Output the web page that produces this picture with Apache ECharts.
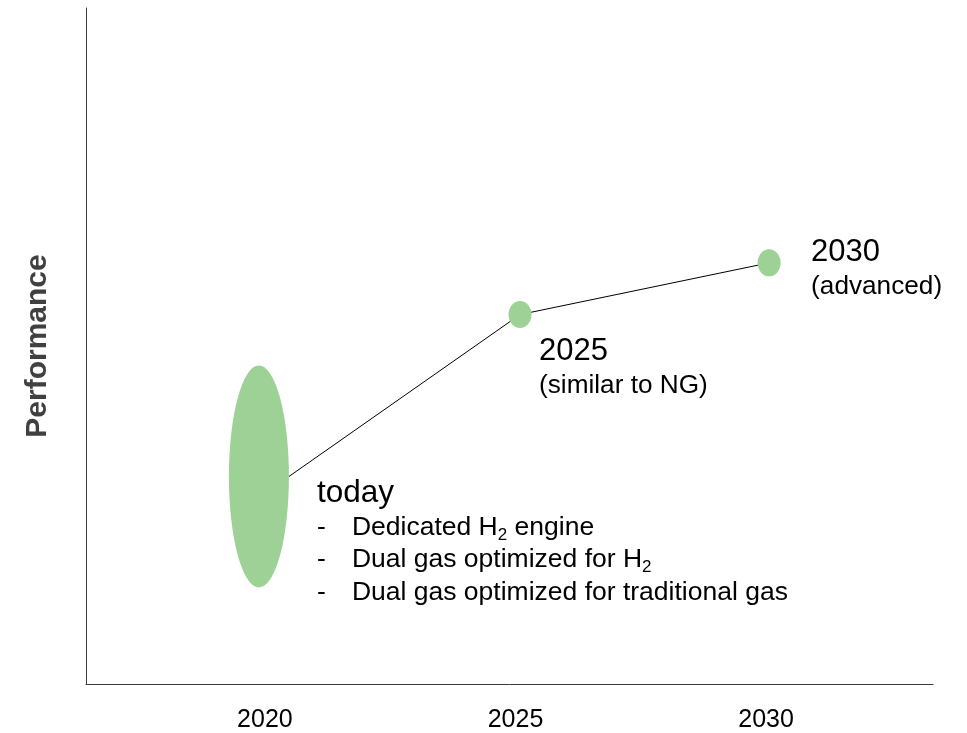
<!DOCTYPE html>
<html>
<head>
<meta charset="utf-8">
<script src="https://cdn.jsdelivr.net/npm/echarts@6/dist/echarts.min.js"></script>
<style>html,body{margin:0;padding:0;background:#fff}#c{width:967px;height:733px}</style>
</head>
<body>
<div id="c"></div>
<script>
// ---- data ----
const years = [2020, 2025, 2030];
const tickLabels = ['2020', '2025', '2030'];
const pointX = [2019.88, 2025.09, 2030.06];
const pointY = [30.7, 54.65, 62.3];
const lineX = [2020.48, 2025.09, 2030.06];
const lineY = [30.7, 54.65, 62.3];
const titles = ['today', '2025', '2030'];
const subtitles = ['', '(similar to NG)', '(advanced)'];
const todayItems = [['Dedicated H', '2', ' engine'], ['Dual gas optimized for H', '2', ''], ['Dual gas optimized for traditional gas', '', '']];
const yAxisName = 'Performance';

const FONT = '"Liberation Sans", Arial, Helvetica, sans-serif';
const chart = echarts.init(document.getElementById('c'), null, {renderer: 'canvas'});

function todayLabel() {
  const lines = ['{t|' + titles[0] + '}'];
  todayItems.forEach(it => {
    let s = '{d|-}{n|' + it[0] + '}';
    if (it[1]) s += '{s|' + it[1] + '}';
    if (it[2]) s += '{n|' + it[2] + '}';
    lines.push(s);
  });
  return lines.join('\n');
}

const rich = {
  t: {fontSize: 31.5, lineHeight: 35, color: '#000', fontFamily: FONT},
  a: {fontSize: 31, lineHeight: 32, color: '#000', fontFamily: FONT},
  b: {fontSize: 26.2, lineHeight: 36, color: '#000', fontFamily: FONT},
  d: {fontSize: 26.5, lineHeight: 32.5, width: 35, color: '#000', fontFamily: FONT},
  n: {fontSize: 26.5, lineHeight: 32.5, color: '#000', fontFamily: FONT},
  s: {fontSize: 17, lineHeight: 20, verticalAlign: 'bottom', color: '#000', fontFamily: FONT}
};

const labelPos = [[88, 110.5], [30.5, 34.5], [53.5, -12.5]];
const sizes = [[60, 222], [23, 27], [23, 27]];

const scatterData = pointX.map((x, i) => ({
  value: [x, pointY[i]],
  symbolSize: sizes[i],
  label: {
    show: true,
    position: labelPos[i],
    align: 'left',
    verticalAlign: 'top',
    formatter: i === 0 ? todayLabel() : '{a|' + titles[i] + '}\n{b|' + subtitles[i] + '}',
    rich: rich
  }
}));

chart.setOption({
  animation: false,
  backgroundColor: '#fff',
  textStyle: {fontFamily: FONT},
  grid: {left: 86, right: 34, top: 8, bottom: 48, containLabel: false},
  xAxis: {
    type: 'value',
    min: 2016.43,
    max: 2033.33,
    axisLine: {show: true, lineStyle: {color: '#3a3a3a', width: 1}},
    axisTick: {show: false},
    splitLine: {show: false},
    axisLabel: {
      customValues: years,
      formatter: v => tickLabels[years.indexOf(Math.round(v))] || '',
      fontSize: 25, color: '#000', margin: 24, fontFamily: FONT
    }
  },
  yAxis: {
    type: 'value',
    min: 0,
    max: 100,
    name: yAxisName,
    nameLocation: 'middle',
    nameRotate: 90,
    nameGap: 33,
    nameTextStyle: {fontSize: 30, fontWeight: 'bold', color: '#404040', fontFamily: FONT},
    axisLine: {show: true, lineStyle: {color: '#3a3a3a', width: 1}},
    axisTick: {show: false},
    splitLine: {show: false},
    axisLabel: {show: false}
  },
  series: [
    {
      type: 'line',
      data: lineX.map((x, i) => [x, lineY[i]]),
      symbol: 'none',
      lineStyle: {color: '#000', width: 1},
      z: 1,
      silent: true
    },
    {
      type: 'scatter',
      symbol: 'circle',
      data: scatterData,
      itemStyle: {color: '#9dd196', opacity: 1},
      z: 2,
      silent: true
    }
  ]
});
</script>
</body>
</html>
